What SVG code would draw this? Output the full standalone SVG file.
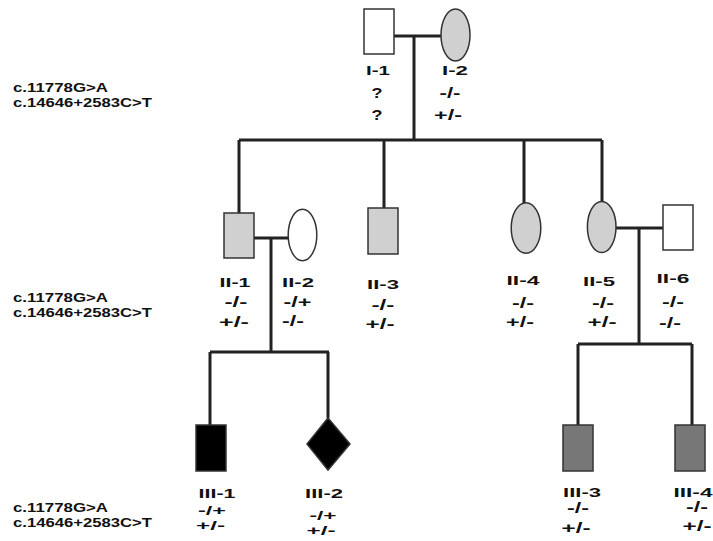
<svg xmlns="http://www.w3.org/2000/svg" width="713" height="541" viewBox="0 0 713 541">
<style>
text{font-family:"Liberation Sans",Arial,sans-serif;font-weight:bold;fill:#111}
.id{font-size:12px;text-anchor:middle}
.gt{font-size:15px;text-anchor:middle}
.gs{font-size:13px;text-anchor:middle}
.mut{font-size:13px}
.ln{stroke:#222;stroke-width:3;fill:none}
.sh{stroke:#333;stroke-width:1.5}
.wh{fill:#fff}
.lg{fill:#d0d0d0}
.dg{fill:#777}
.bk{fill:#000}
</style>
<rect width="713" height="541" fill="#fff"/>
<g id="connectors" class="ln">
<path d="M394 36H441M414 36V140"/>
<path d="M239 140H602M239 140V213M384 140V208M524 140V203M602 140V202"/>
<path d="M254 238H288M271 238V352M210 352H329M210 352V425M328 352V418"/>
<path d="M616 228H663M639 228V344M578 344H692M578 344V425M692 344V425"/>
</g>
<g id="legend">
<text class="mut" x="13" y="92" textLength="95" lengthAdjust="spacingAndGlyphs">c.11778G&gt;A</text>
<text class="mut" x="13" y="107" textLength="139" lengthAdjust="spacingAndGlyphs">c.14646+2583C&gt;T</text>
<text class="mut" x="13" y="302" textLength="95" lengthAdjust="spacingAndGlyphs">c.11778G&gt;A</text>
<text class="mut" x="13" y="317" textLength="139" lengthAdjust="spacingAndGlyphs">c.14646+2583C&gt;T</text>
<text class="mut" x="13" y="512" textLength="95" lengthAdjust="spacingAndGlyphs">c.11778G&gt;A</text>
<text class="mut" x="13" y="527" textLength="139" lengthAdjust="spacingAndGlyphs">c.14646+2583C&gt;T</text>
</g>
<g id="I-1">
<rect class="sh wh" x="364" y="9" width="30" height="45"/>
<text class="id" x="378" y="75" textLength="24" lengthAdjust="spacingAndGlyphs">I-1</text>
<text class="gt" x="377" y="98" textLength="11" lengthAdjust="spacingAndGlyphs">?</text>
<text class="gt" x="377" y="120" textLength="11" lengthAdjust="spacingAndGlyphs">?</text>
</g>
<g id="I-2">
<ellipse class="sh lg" cx="455.5" cy="35" rx="14.5" ry="26"/>
<text class="id" x="455" y="75" textLength="26" lengthAdjust="spacingAndGlyphs">I-2</text>
<text class="gt" x="450" y="98" textLength="21" lengthAdjust="spacingAndGlyphs">-/-</text>
<text class="gt" x="448" y="120" textLength="28" lengthAdjust="spacingAndGlyphs">+/-</text>
</g>
<g id="II-1">
<rect class="sh lg" x="224" y="213" width="30" height="45"/>
<text class="id" x="235" y="287" textLength="31" lengthAdjust="spacingAndGlyphs">II-1</text>
<text class="gt" x="236" y="307" textLength="23" lengthAdjust="spacingAndGlyphs">-/-</text>
<text class="gt" x="234" y="327" textLength="30" lengthAdjust="spacingAndGlyphs">+/-</text>
</g>
<g id="II-2">
<ellipse class="sh wh" cx="302.5" cy="235" rx="14.3" ry="25.7"/>
<text class="id" x="298" y="287" textLength="32" lengthAdjust="spacingAndGlyphs">II-2</text>
<text class="gt" x="297.5" y="307" textLength="28" lengthAdjust="spacingAndGlyphs">-/+</text>
<text class="gt" x="293" y="326" textLength="22" lengthAdjust="spacingAndGlyphs">-/-</text>
</g>
<g id="II-3">
<rect class="sh lg" x="368" y="208" width="30" height="46"/>
<text class="id" x="383" y="289" textLength="32" lengthAdjust="spacingAndGlyphs">II-3</text>
<text class="gt" x="383" y="310" textLength="23" lengthAdjust="spacingAndGlyphs">-/-</text>
<text class="gt" x="380" y="329" textLength="29" lengthAdjust="spacingAndGlyphs">+/-</text>
</g>
<g id="II-4">
<ellipse class="sh lg" cx="526" cy="228" rx="14.8" ry="25.3"/>
<text class="id" x="523" y="285" textLength="33" lengthAdjust="spacingAndGlyphs">II-4</text>
<text class="gt" x="523" y="308" textLength="22" lengthAdjust="spacingAndGlyphs">-/-</text>
<text class="gt" x="520" y="327" textLength="28" lengthAdjust="spacingAndGlyphs">+/-</text>
</g>
<g id="II-5">
<ellipse class="sh lg" cx="601.7" cy="227" rx="14.3" ry="25.5"/>
<text class="id" x="599" y="286" textLength="32" lengthAdjust="spacingAndGlyphs">II-5</text>
<text class="gt" x="603" y="308" textLength="22" lengthAdjust="spacingAndGlyphs">-/-</text>
<text class="gt" x="602" y="327" textLength="29" lengthAdjust="spacingAndGlyphs">+/-</text>
</g>
<g id="II-6">
<rect class="sh wh" x="663" y="205" width="30" height="45"/>
<text class="id" x="673" y="283" textLength="33" lengthAdjust="spacingAndGlyphs">II-6</text>
<text class="gt" x="673" y="307" textLength="22" lengthAdjust="spacingAndGlyphs">-/-</text>
<text class="gt" x="670" y="328" textLength="22" lengthAdjust="spacingAndGlyphs">-/-</text>
</g>
<g id="III-1">
<rect class="sh bk" x="196" y="425" width="30" height="46"/>
<text class="id" x="217" y="498" textLength="37" lengthAdjust="spacingAndGlyphs">III-1</text>
<text class="gs" x="212" y="515" textLength="28" lengthAdjust="spacingAndGlyphs">-/+</text>
<text class="gs" x="210.5" y="530" textLength="29" lengthAdjust="spacingAndGlyphs">+/-</text>
</g>
<g id="III-2">
<polygon class="sh bk" points="328,418 350,444 328,470 307,444"/>
<text class="id" x="324" y="498" textLength="38" lengthAdjust="spacingAndGlyphs">III-2</text>
<text class="gs" x="323" y="520" textLength="27" lengthAdjust="spacingAndGlyphs">-/+</text>
<text class="gs" x="321" y="535" textLength="29" lengthAdjust="spacingAndGlyphs">+/-</text>
</g>
<g id="III-3">
<rect class="sh dg" x="563" y="425" width="30" height="46"/>
<text class="id" x="582" y="497" textLength="38" lengthAdjust="spacingAndGlyphs">III-3</text>
<text class="gt" x="578" y="513" textLength="22" lengthAdjust="spacingAndGlyphs">-/-</text>
<text class="gt" x="576" y="533" textLength="29" lengthAdjust="spacingAndGlyphs">+/-</text>
</g>
<g id="III-4">
<rect class="sh dg" x="675" y="425" width="30" height="46"/>
<text class="id" x="693" y="497" textLength="39" lengthAdjust="spacingAndGlyphs">III-4</text>
<text class="gt" x="697" y="512" textLength="22" lengthAdjust="spacingAndGlyphs">-/-</text>
<text class="gt" x="697" y="531" textLength="29" lengthAdjust="spacingAndGlyphs">+/-</text>
</g>
</svg>
